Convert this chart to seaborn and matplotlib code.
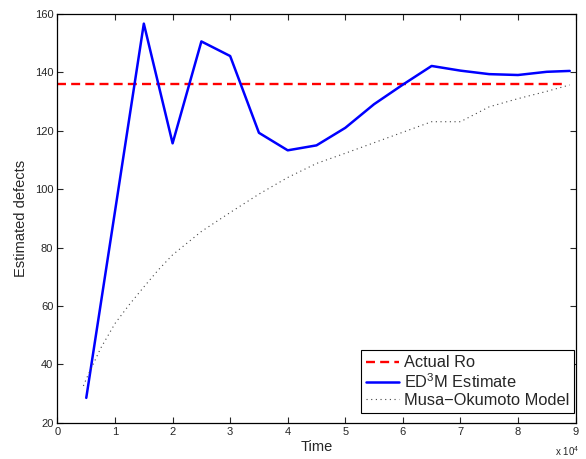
import matplotlib
matplotlib.use("Agg")
import matplotlib.pyplot as plt
import numpy as np
import pandas as pd
import seaborn as sns

sns.set_style("white")
plt.rcParams['font.family'] = ['Liberation Sans', 'DejaVu Sans']
plt.rcParams['mathtext.default'] = 'regular'

# time in units of 10^4
ed3m_time = [0.5, 1.0, 1.5, 2.0, 2.5, 3.0, 3.5, 4.0, 4.5, 5.0, 5.5, 6.0, 6.5, 7.0, 7.5, 8.0, 8.5, 8.9]
ed3m_est = [28.5, 92.5, 156.7, 115.7, 150.6, 145.6, 119.3, 113.3, 115.0, 121.0, 129.1, 135.8, 142.2, 140.6, 139.4, 139.1, 140.2, 140.5]

musa_time = [0.45, 0.5, 0.75, 1.0, 1.25, 1.5, 1.75, 2.0, 2.5, 3.0, 3.5, 4.0, 4.5, 5.0, 5.5, 6.0, 6.5, 7.0, 7.5, 8.0, 8.5, 8.9]
musa_est = [32.6, 35.0, 45.5, 54.0, 60.5, 66.5, 72.3, 77.5, 85.5, 92.0, 98.3, 104.0, 108.8, 112.3, 115.9, 119.5, 123.1, 123.1, 128.2, 131.0, 133.5, 135.7]

ro_time = [0.0, 8.85]
ro_value = [136, 136]

fig = plt.figure(figsize=(5.86, 4.59), dpi=100)
ax = fig.add_axes([0.0981, 0.0791, 0.884, 0.8904])

sns.lineplot(x=ro_time, y=ro_value, ax=ax, color='red', lw=1.7,
             label='Actual Ro', dashes=False)
ax.lines[-1].set_dashes((3.8, 2.2))
sns.lineplot(x=ed3m_time, y=ed3m_est, ax=ax, color='blue', lw=1.8,
             label='ED$^{3}$M Estimate')
sns.lineplot(x=musa_time, y=musa_est, ax=ax, color='#444444', lw=0.8,
             label='Musa\u2212Okumoto Model')
ax.lines[-1].set_dashes((1, 3.2))

ax.set_xlim(0, 9)
ax.set_ylim(20, 160)
ax.set_xticks(np.arange(0, 10, 1))
ax.set_yticks(np.arange(20, 161, 20))
ax.tick_params(direction='in', length=4, width=0.8, labelsize=8,
               top=True, right=True, bottom=True, left=True, pad=3)
for s in ax.spines.values():
    s.set_linewidth(0.9)
    s.set_color('black')

ax.set_xlabel('Time', fontsize=10.5, labelpad=2)
ax.set_ylabel('Estimated defects', fontsize=10.5, labelpad=5)
ax.text(1.008, -0.052, 'x 10$^{4}$', transform=ax.transAxes, ha='right', va='top', fontsize=7)

leg = ax.legend(loc='lower right', bbox_to_anchor=(0.997, 0.024), borderaxespad=0,
                fontsize=11.8, frameon=True, fancybox=False, framealpha=1,
                edgecolor='black', handlelength=2.0, handletextpad=0.3,
                labelspacing=0.12, borderpad=0.3)
leg.get_frame().set_linewidth(0.8)

fig.savefig('out.png', dpi=100)
